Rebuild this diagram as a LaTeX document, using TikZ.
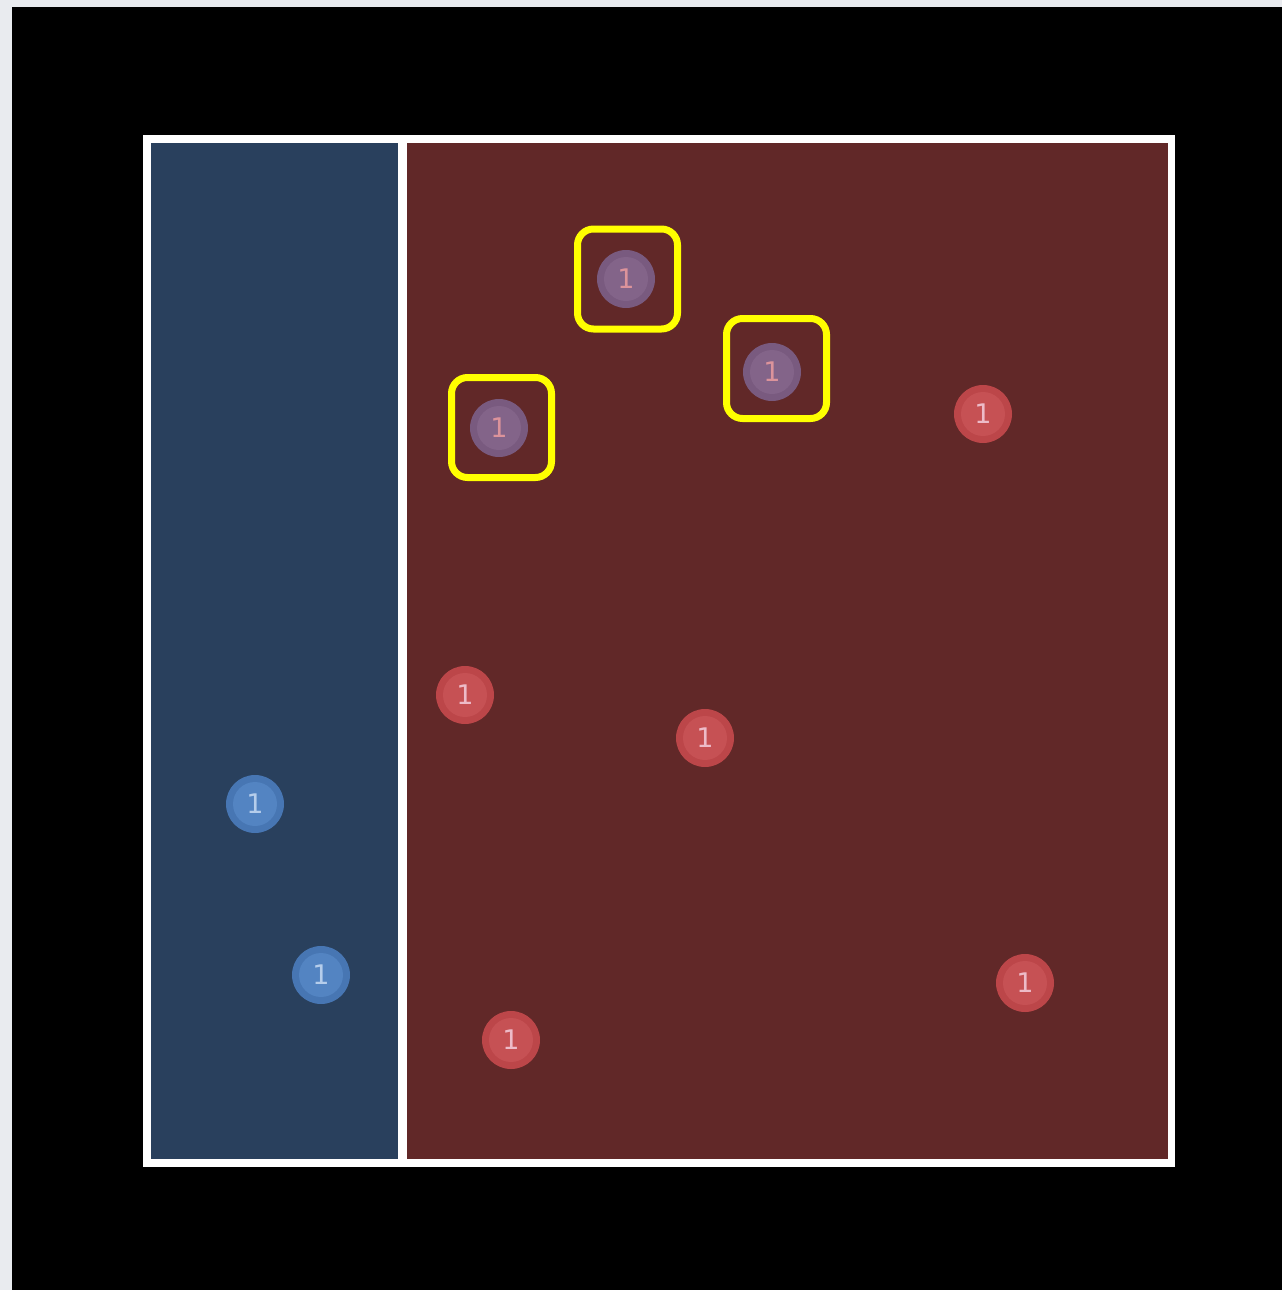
\documentclass[tikz,border=0pt]{standalone}
\usepackage{fontspec}
\setmainfont{DejaVu Sans}
\definecolor{pagegray}{HTML}{E9EBEF}
\definecolor{bluezone}{HTML}{29405D}
\definecolor{redzone}{HTML}{612828}
\definecolor{redout}{HTML}{BC4649}
\definecolor{redin}{HTML}{C65154}
\definecolor{redtxt}{HTML}{EDBBC8}
\definecolor{blueout}{HTML}{4776B3}
\definecolor{bluein}{HTML}{5384C2}
\definecolor{bluetxt}{HTML}{B5CDEB}
\definecolor{purpout}{HTML}{795A7F}
\definecolor{purpin}{HTML}{836489}
\definecolor{purptxt}{HTML}{DC939B}
\definecolor{hiyellow}{HTML}{FFFF00}
\begin{document}
\begin{tikzpicture}[x=1pt,y=-1pt,
  tok/.style={circle,minimum size=58pt,inner sep=0pt,font=\fontsize{27}{29}\selectfont},
  redtok/.style={tok,fill=redout,text=redtxt,
     path picture={\fill[redin] (path picture bounding box.center) circle (22pt);}},
  bluetok/.style={tok,fill=blueout,text=bluetxt,
     path picture={\fill[bluein] (path picture bounding box.center) circle (22pt);}},
  purptok/.style={tok,fill=purpout,text=purptxt,
     path picture={\fill[purpin] (path picture bounding box.center) circle (22pt);}},
  selbox/.style={draw=hiyellow,line width=7pt,rounded corners=16pt,minimum size=100pt,inner sep=0pt}]
\useasboundingbox (0,0) rectangle (1282,1290);
\fill[pagegray] (0,0) rectangle (1282,1290);
\fill[black] (12,7) rectangle (1282,1290);
\fill[white] (143,135) rectangle (1175,1167);
\fill[bluezone] (151,143) rectangle (398,1159);
\fill[redzone] (407,143) rectangle (1168,1159);
% selection boxes
\node[selbox] (b1) at (627.5,279) {};
\node[selbox] (b2) at (776.5,368.5) {};
\node[selbox] (b3) at (501.5,427.5) {};
% purple tokens
\node[purptok] (p1) at (626,279) {1};
\node[purptok] (p2) at (772,372) {1};
\node[purptok] (p3) at (499,428) {1};
% red tokens
\node[redtok] (r1) at (983,414) {1};
\node[redtok] (r2) at (465,695) {1};
\node[redtok] (r3) at (705,738) {1};
\node[redtok] (r4) at (1025,983) {1};
\node[redtok] (r5) at (511,1040) {1};
% blue tokens
\node[bluetok] (u1) at (255,804) {1};
\node[bluetok] (u2) at (321,975) {1};
\end{tikzpicture}
\end{document}
